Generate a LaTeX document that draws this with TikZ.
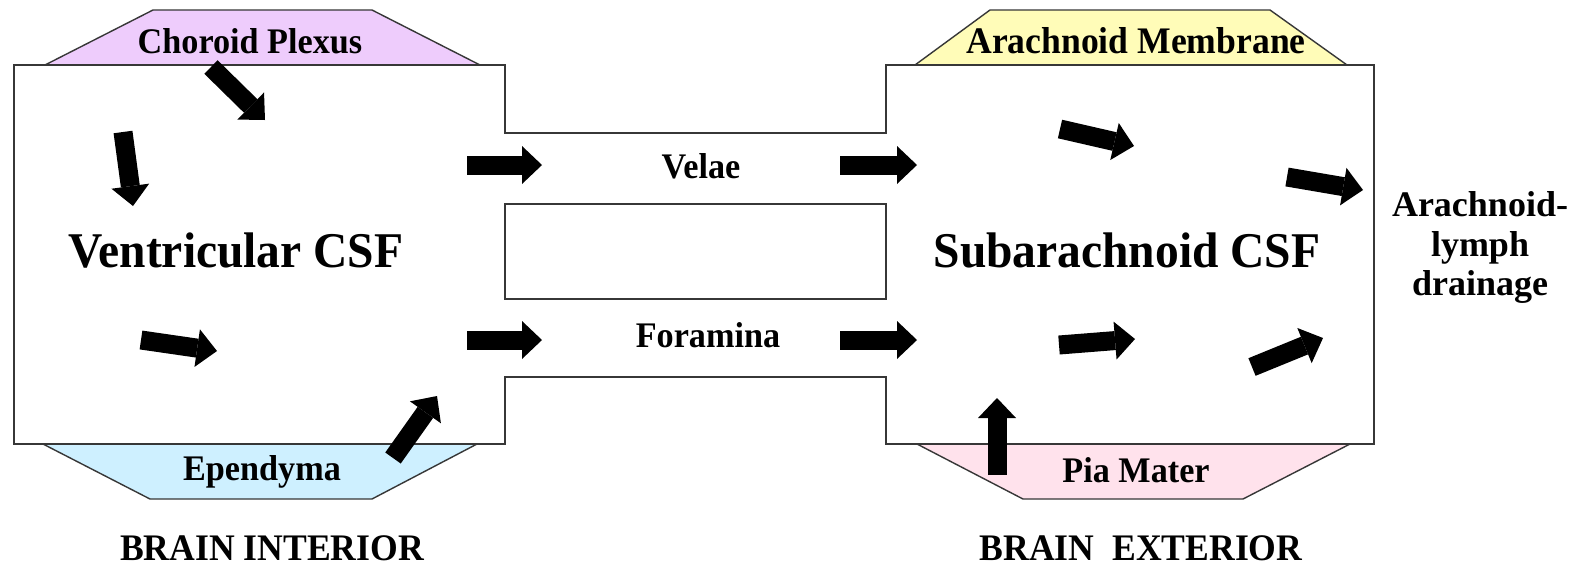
\documentclass[tikz,border=0pt]{standalone}
\usepackage{fontspec}
\setmainfont{Liberation Serif}[FakeStretch=0.95]
\newfontfamily\drainfont{Liberation Serif}
\usetikzlibrary{arrows.meta}
\definecolor{choroid}{RGB}{238,204,252}
\definecolor{epend}{RGB}{206,240,255}
\definecolor{arach}{RGB}{255,252,184}
\definecolor{pia}{RGB}{255,226,236}
\definecolor{edge}{RGB}{55,55,55}
\begin{document}
\begin{tikzpicture}[x=1pt,y=-1pt,
  wall/.style={draw=edge, line width=1.6pt, line join=miter},
  memb/.style={draw=edge, line width=1.4pt},
  flow/.style={line width=19pt, -{Triangle[length=20pt,width=38pt,line width=0pt]}},
  lab/.style={inner sep=0pt, anchor=base, font=\fontsize{36}{40}\selectfont\bfseries},
  biglab/.style={inner sep=0pt, anchor=base, font=\fontsize{50}{56}\selectfont\bfseries},
  zone/.style={inner sep=0pt, anchor=base, font=\fontsize{37.5}{42}\selectfont\bfseries},
  drain/.style={inner sep=0pt, anchor=base, font=\drainfont\fontsize{36}{40}\selectfont\bfseries},
]
\useasboundingbox (0,0) rectangle (1571,566);
\fill[white] (0,0) rectangle (1571,566);

% membranes
\draw[memb, fill=choroid] (45,65) -- (153,10) -- (372,10) -- (480,65) -- cycle;
\draw[memb, fill=epend] (43,444) -- (150,499) -- (372,499) -- (477,444) -- cycle;
\draw[memb, fill=arach] (915,65) -- (990,10) -- (1270,10) -- (1347,65) -- cycle;
\draw[memb, fill=pia] (917,444) -- (1023,499) -- (1243,499) -- (1350,444) -- cycle;

% compartments
\draw[wall, fill=white] (14,65) -- (505,65) -- (505,133) -- (886,133) -- (886,65)
  -- (1374,65) -- (1374,444) -- (886,444) -- (886,377) -- (505,377) -- (505,444)
  -- (14,444) -- cycle;
\draw[wall] (505,204) rectangle (886,299);

% labels
\node[lab] (choroid) at (250,53) {Choroid Plexus};
\node[lab] (ependyma) at (262,480) {Ependyma};
\node[lab, font=\fontsize{37.5}{42}\selectfont\bfseries] (arachm) at (1136,53) {Arachnoid Membrane};
\node[lab] (pia) at (1136,482) {Pia Mater};
\node[lab] (velae) at (701,178) {Velae};
\node[lab] (foramina) at (708,347) {Foramina};
\node[biglab] (vcsf) at (236,267) {Ventricular CSF};
\node[biglab] (scsf) at (1127,267) {Subarachnoid CSF};
\node[zone] (interior) at (272,560) {BRAIN INTERIOR};
\node[zone] (exterior) at (1141,560) {BRAIN\ \ EXTERIOR};
\node[drain] (drain1) at (1480,216) {Arachnoid-};
\node[drain] (drain2) at (1480,256) {lymph};
\node[drain] (drain3) at (1480,295) {drainage};

% flow arrows
\coordinate (a1t) at (211,67);   \coordinate (a1h) at (265,120);
\coordinate (a2t) at (123,132);  \coordinate (a2h) at (133,206);
\coordinate (a3t) at (141,340);  \coordinate (a3h) at (217,351);
\coordinate (a4t) at (393,458);  \coordinate (a4h) at (437,396);
\coordinate (a5t) at (467,165);  \coordinate (a5h) at (542,165);
\coordinate (a6t) at (840,165);  \coordinate (a6h) at (917,165);
\coordinate (a7t) at (467,340);  \coordinate (a7h) at (542,340);
\coordinate (a8t) at (840,340);  \coordinate (a8h) at (917,340);
\coordinate (a9t) at (1060,129); \coordinate (a9h) at (1134,146);
\coordinate (a10t) at (1287,177); \coordinate (a10h) at (1363,190);
\coordinate (a11t) at (1059,345); \coordinate (a11h) at (1135,339);
\coordinate (a12t) at (1252,367); \coordinate (a12h) at (1323,338);
\coordinate (a13t) at (997,475);  \coordinate (a13h) at (997,398);
\foreach \i in {1,...,13} {\draw[flow] (a\i t) -- (a\i h);}
\end{tikzpicture}
\end{document}
